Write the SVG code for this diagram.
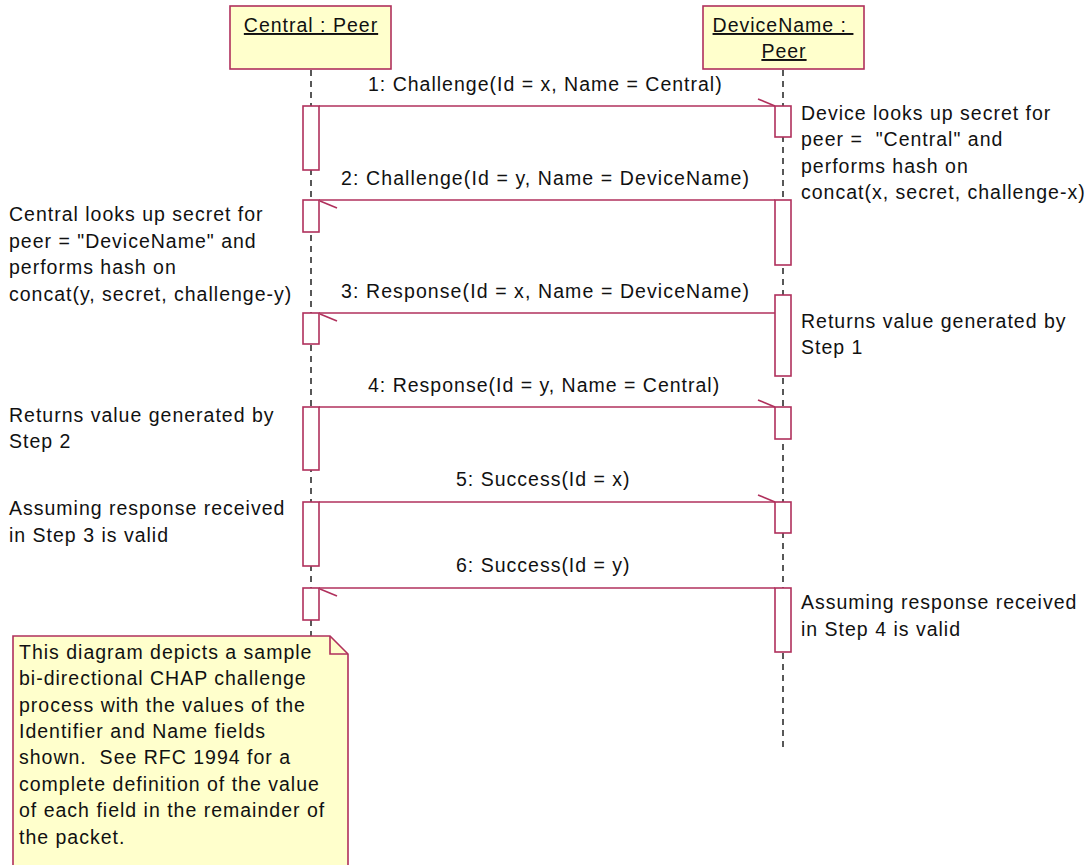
<svg xmlns="http://www.w3.org/2000/svg" width="1091" height="865" viewBox="0 0 1091 865">
<style>
.box{fill:#ffffcc;stroke:#b0305c;stroke-width:1.6}
.act{fill:#ffffff;stroke:#b0305c;stroke-width:1.6}
.msg{stroke:#b0305c;stroke-width:1.6;fill:none}
.life{stroke:#222;stroke-width:1.5;stroke-dasharray:6 5;fill:none}
text{font-family:"Liberation Sans",Arial,sans-serif;font-size:19.5px;letter-spacing:1px;fill:#111;white-space:pre}
.u{text-decoration:underline}
</style>
<rect width="1091" height="865" fill="#ffffff"/>
<g id="lifelines">
<line class="life" x1="311" y1="70" x2="311" y2="636"/>
<line class="life" x1="783" y1="70" x2="783" y2="752"/>
</g>
<g id="central">
<rect class="box" x="230" y="6" width="161" height="63"/>
<text x="311" y="32" text-anchor="middle" class="u">Central : Peer</text>
</g>
<g id="device">
<rect class="box" x="703" y="6" width="161" height="63"/>
<text x="783" y="32" text-anchor="middle" class="u">DeviceName : </text>
<text x="784" y="58" text-anchor="middle" class="u">Peer</text>
</g>
<g id="activations">
<rect class="act" x="303" y="106" width="16" height="64"/>
<rect class="act" x="303" y="200" width="16" height="32"/>
<rect class="act" x="303" y="313" width="16" height="31"/>
<rect class="act" x="303" y="407" width="16" height="63"/>
<rect class="act" x="303" y="502" width="16" height="64"/>
<rect class="act" x="303" y="588" width="16" height="32"/>
<rect class="act" x="775" y="106" width="16" height="31"/>
<rect class="act" x="775" y="200" width="16" height="65"/>
<rect class="act" x="775" y="295" width="16" height="81"/>
<rect class="act" x="775" y="407" width="16" height="32"/>
<rect class="act" x="775" y="502" width="16" height="31"/>
<rect class="act" x="775" y="588" width="16" height="64"/>
</g>
<g id="connectors">
<line class="msg" x1="319" y1="106" x2="775" y2="106"/>
<polyline class="msg" points="758,99 775,106"/>
<line class="msg" x1="775" y1="200" x2="319" y2="200"/>
<polyline class="msg" points="320,201 337,208"/>
<line class="msg" x1="775" y1="313" x2="319" y2="313"/>
<polyline class="msg" points="320,314 337,321"/>
<line class="msg" x1="319" y1="407" x2="775" y2="407"/>
<polyline class="msg" points="758,400 775,407"/>
<line class="msg" x1="319" y1="502" x2="775" y2="502"/>
<polyline class="msg" points="758,495 775,502"/>
<line class="msg" x1="775" y1="588" x2="319" y2="588"/>
<polyline class="msg" points="320,589 337,596"/>
</g>
<g id="labels">
<text x="368" y="91">1: Challenge(Id = x, Name = Central)</text>
<text x="341" y="185" textLength="409">2: Challenge(Id = y, Name = DeviceName)</text>
<text x="341" y="298" textLength="409">3: Response(Id = x, Name = DeviceName)</text>
<text x="368" y="392">4: Response(Id = y, Name = Central)</text>
<text x="456" y="486">5: Success(Id = x)</text>
<text x="456" y="572">6: Success(Id = y)</text>
</g>
<g id="comments">
<text x="801" y="120">Device looks up secret for</text>
<text x="801" y="146">peer =  "Central" and</text>
<text x="801" y="173">performs hash on</text>
<text x="801" y="199">concat(x, secret, challenge-x)</text>
<text x="9" y="221">Central looks up secret for</text>
<text x="9" y="248">peer = "DeviceName" and</text>
<text x="9" y="274">performs hash on</text>
<text x="9" y="301">concat(y, secret, challenge-y)</text>
<text x="801" y="328">Returns value generated by</text>
<text x="801" y="354">Step 1</text>
<text x="9" y="422">Returns value generated by</text>
<text x="9" y="448">Step 2</text>
<text x="9" y="515">Assuming response received</text>
<text x="9" y="542">in Step 3 is valid</text>
<text x="801" y="609">Assuming response received</text>
<text x="801" y="636">in Step 4 is valid</text>
</g>
<g id="note">
<path class="box" d="M13,870 L13,636 L330,636 L348,654 L348,870 Z"/>
<path class="msg" d="M330,636 L330,654 L348,654"/>
<text x="19" y="659">This diagram depicts a sample</text>
<text x="19" y="685">bi-directional CHAP challenge</text>
<text x="19" y="712">process with the values of the</text>
<text x="19" y="738">Identifier and Name fields</text>
<text x="19" y="764">shown.  See RFC 1994 for a</text>
<text x="19" y="791">complete definition of the value</text>
<text x="19" y="817">of each field in the remainder of</text>
<text x="19" y="844">the packet.</text>
</g>
</svg>
